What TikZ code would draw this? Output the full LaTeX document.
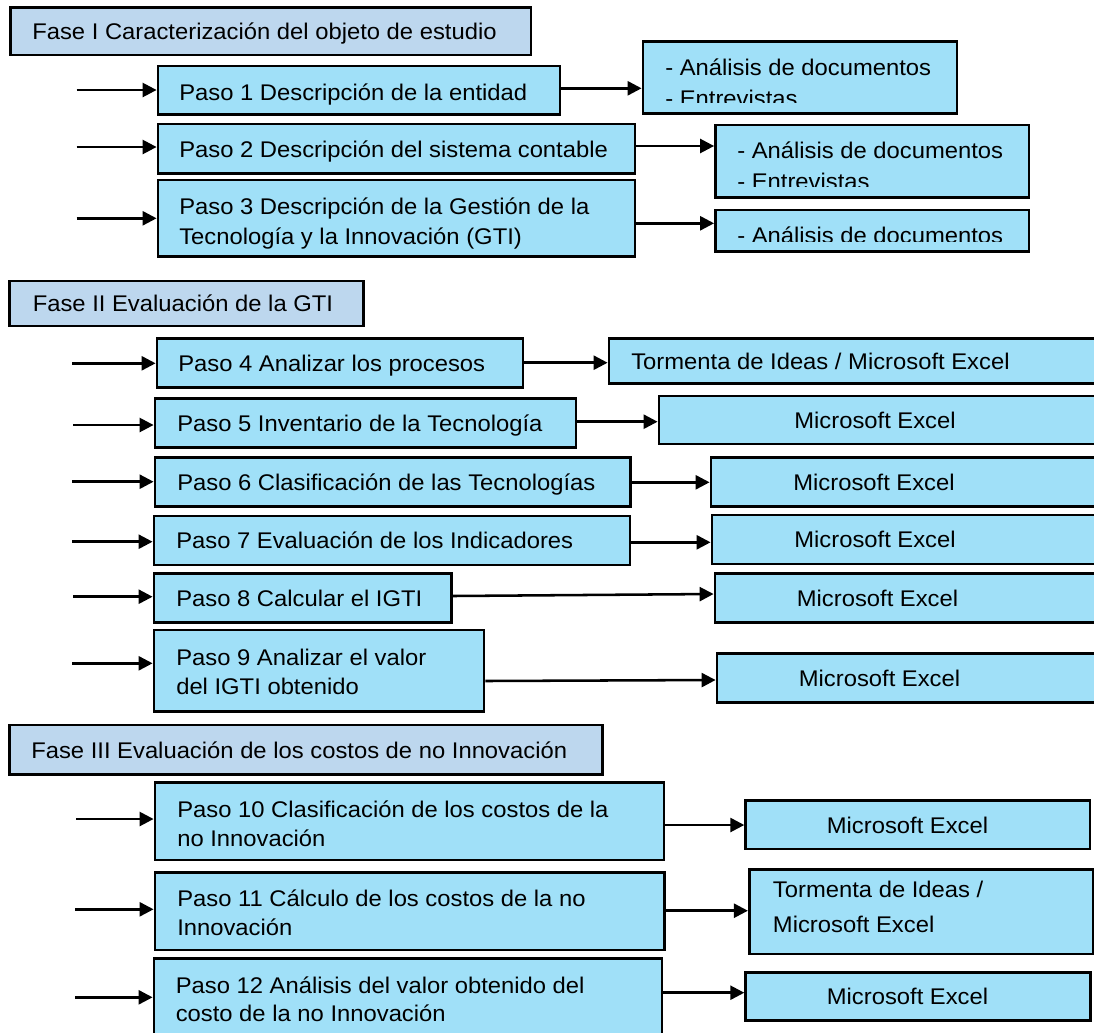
\documentclass[tikz,border=0pt]{standalone}
\usepackage{fontspec}
\setmainfont[FakeStretch=1.05]{Liberation Sans}
\usetikzlibrary{fit,arrows.meta}
\definecolor{stepfill}{HTML}{A0E0F8}
\definecolor{fasefill}{HTML}{BDD7EE}
\tikzset{
  boxbase/.style={draw=black, line width=2.1pt, inner sep=0pt, rectangle},
  stepbox/.style={boxbase, fill=stepfill},
  fasebox/.style={boxbase, fill=fasefill},
  txt/.style={inner sep=0pt, font=\fontsize{17}{21}\selectfont},
  arr/.style={line width=1.9pt, -{Triangle[length=10.5pt,width=10.5pt]}},
}
\begin{document}
\begin{tikzpicture}[x=0.75pt,y=-0.75pt]
\useasboundingbox (0,0) rectangle (1094,1032);
% ---------------- Fase I
\node[fasebox, fit={(10.5,7.5) (531,55)}] (f1) {};
\node[txt, anchor=base west] (tf1) at (32,39) {Fase I Caracterización del objeto de estudio};

\node[stepbox, fit={(158,66) (560,114.3)}] (p1) {};
\node[txt, anchor=base west] (tp1) at (179,100) {Paso 1 Descripción de la entidad};
\node[stepbox, fit={(643,41.7) (957,113.3)}] (r1) {};
\begin{scope}
\clip (643,41.7) rectangle (957,102.7);
\node[txt, anchor=base west] (tr1a) at (665,75) {- Análisis de documentos};
\node[txt, anchor=base west] (tr1b) at (665,106) {- Entrevistas};
\end{scope}

\node[stepbox, fit={(158,124) (635,173.3)}] (p2) {};
\node[txt, anchor=base west] (tp2) at (179,157) {Paso 2 Descripción del sistema contable};
\node[stepbox, fit={(715.5,125) (1029,197.3)}] (r2) {};
\begin{scope}
\clip (715.5,125) rectangle (1029,186.7);
\node[txt, anchor=base west] (tr2a) at (737,158) {- Análisis de documentos};
\node[txt, anchor=base west] (tr2b) at (737,189) {- Entrevistas};
\end{scope}

\node[stepbox, fit={(158,180) (635,256.7)}] (p3) {};
\begin{scope}
\clip (158,180) rectangle (635,248.3);
\node[txt, anchor=base west] (tp3a) at (179,214) {Paso 3 Descripción de la Gestión de la};
\node[txt, anchor=base west] (tp3b) at (179,244) {Tecnología y la Innovación (GTI)};
\end{scope}
\node[stepbox, fit={(715.5,210) (1029,251.7)}] (r3) {};
\begin{scope}
\clip (715.5,210) rectangle (1029,241.7);
\node[txt, anchor=base west] (tr3) at (737,243) {- Análisis de documentos};
\end{scope}

% ---------------- Fase II
\node[fasebox, fit={(9.6,281) (363.6,326)}] (f2) {};
\node[txt, anchor=base west] (tf2) at (32.5,311) {Fase II Evaluación de la GTI};

\node[stepbox, fit={(157,338.3) (523,387.7)}] (p4) {};
\node[txt, anchor=base west] (tp4) at (178,371) {Paso 4 Analizar los procesos};
\node[stepbox, fit={(609,338.3) (1100,383.3)}] (r4) {};
\node[txt, anchor=base west] (tr4) at (631,369) {Tormenta de Ideas / Microsoft Excel};

\node[stepbox, fit={(155,398.3) (576,447.3)}] (p5) {};
\node[txt, anchor=base west] (tp5) at (177,431) {Paso 5 Inventario de la Tecnología};
\node[stepbox, fit={(659,396) (1100,444)}] (r5) {};
\node[txt, anchor=base] (tr5) at (875,428) {Microsoft Excel};

\node[stepbox, fit={(155,457.7) (630.7,506.7)}] (p6) {};
\node[txt, anchor=base west] (tp6) at (177,490) {Paso 6 Clasificación de las Tecnologías};
\node[stepbox, fit={(711,457.3) (1100,506.7)}] (r6) {};
\node[txt, anchor=base] (tr6) at (874,490) {Microsoft Excel};

\node[stepbox, fit={(154,516) (630,565)}] (p7) {};
\node[txt, anchor=base west] (tp7) at (176,548.5) {Paso 7 Evaluación de los Indicadores};
\node[stepbox, fit={(712,515) (1100,564)}] (r7) {};
\node[txt, anchor=base] (tr7) at (875,547.5) {Microsoft Excel};

\node[stepbox, fit={(154,573.3) (451.6,622.3)}] (p8) {};
\node[txt, anchor=base west] (tp8) at (176,606) {Paso 8 Calcular el IGTI};
\node[stepbox, fit={(715,573.3) (1100,622.7)}] (r8) {};
\node[txt, anchor=base] (tr8) at (877.5,606) {Microsoft Excel};

\node[stepbox, fit={(154,630) (484,711.7)}] (p9) {};
\node[txt, anchor=base west] (tp9a) at (176,665) {Paso 9 Analizar el valor};
\node[txt, anchor=base west] (tp9b) at (176,694) {del IGTI obtenido};
\node[stepbox, fit={(717,653.3) (1100,702.7)}] (r9) {};
\node[txt, anchor=base] (tr9) at (879.5,686) {Microsoft Excel};

% ---------------- Fase III
\node[fasebox, fit={(9.8,725) (602.7,774.3)}] (f3) {};
\node[txt, anchor=base west] (tf3) at (31,758) {Fase III Evaluación de los costos de no Innovación};

\node[stepbox, fit={(155,782.3) (664,860)}] (p10) {};
\node[txt, anchor=base west] (tp10a) at (177,817) {Paso 10 Clasificación de los costos de la};
\node[txt, anchor=base west] (tp10b) at (177,846) {no Innovación};
\node[stepbox, fit={(745.7,800.7) (1090,849)}] (r10) {};
\node[txt, anchor=base] (tr10) at (907.5,833) {Microsoft Excel};

\node[stepbox, fit={(155,872.3) (664.5,950)}] (p11) {};
\node[txt, anchor=base west] (tp11a) at (177,906) {Paso 11 Cálculo de los costos de la no};
\node[txt, anchor=base west] (tp11b) at (177,935) {Innovación};
\node[stepbox, fit={(749.3,869.3) (1093.3,954)}] (r11) {};
\node[txt, anchor=base west] (tr11a) at (772.7,897) {Tormenta de Ideas /};
\node[txt, anchor=base west] (tr11b) at (772.7,932) {Microsoft Excel};

\node[stepbox, fit={(154,958.3) (662,1045)}] (p12) {};
\node[txt, anchor=base west] (tp12a) at (175.5,993) {Paso 12 Análisis del valor obtenido del};
\node[txt, anchor=base west] (tp12b) at (175.5,1021) {costo de la no Innovación};
\node[stepbox, fit={(745.7,972.3) (1090.7,1020.7)}] (r12) {};
\node[txt, anchor=base] (tr12) at (907.5,1004.5) {Microsoft Excel};

% ---------------- incoming arrows
\coordinate (i1) at (76.5,90);
\coordinate (i2) at (76.5,147);
\coordinate (i3) at (76.5,218.3);
\coordinate (i4) at (72,363.3);
\coordinate (i5) at (73,425);
\coordinate (i6) at (72,481.7);
\coordinate (i7) at (72,541.7);
\coordinate (i8) at (73,596.7);
\coordinate (i9) at (72,663.3);
\coordinate (i10) at (76,819);
\coordinate (i11) at (75,909.3);
\coordinate (i12) at (75,997.3);
\foreach \k in {1,...,12}{
  \draw[arr] (i\k) -- (i\k -| p\k.west);
}

% ---------------- outgoing arrows
\draw[arr] (p1.east |- 0,88.3) -- (r1.west |- 0,88.3);
\draw[arr] (p2.east |- 0,146) -- (r2.west |- 0,146);
\draw[arr] (p3.east |- 0,223.3) -- (r3.west |- 0,223.3);
\draw[arr] (p4.east |- 0,362.7) -- (r4.west |- 0,362.7);
\draw[arr] (p5.east |- 0,421.7) -- (r5.west |- 0,421.7);
\draw[arr] (p6.east |- 0,482.3) -- (r6.west |- 0,482.3);
\draw[arr] (p7.east |- 0,542.3) -- (r7.west |- 0,542.3);
\draw[arr] (p8.east |- 0,596) -- (r8.west |- 0,594);
\draw[arr] (p9.east |- 0,681) -- (r9.west |- 0,680);
\draw[arr] (p10.east |- 0,825) -- (r10.west |- 0,825);
\draw[arr] (p11.east |- 0,910.7) -- (r11.west |- 0,910.7);
\draw[arr] (p12.east |- 0,992.7) -- (r12.west |- 0,992.7);
\end{tikzpicture}
\end{document}
